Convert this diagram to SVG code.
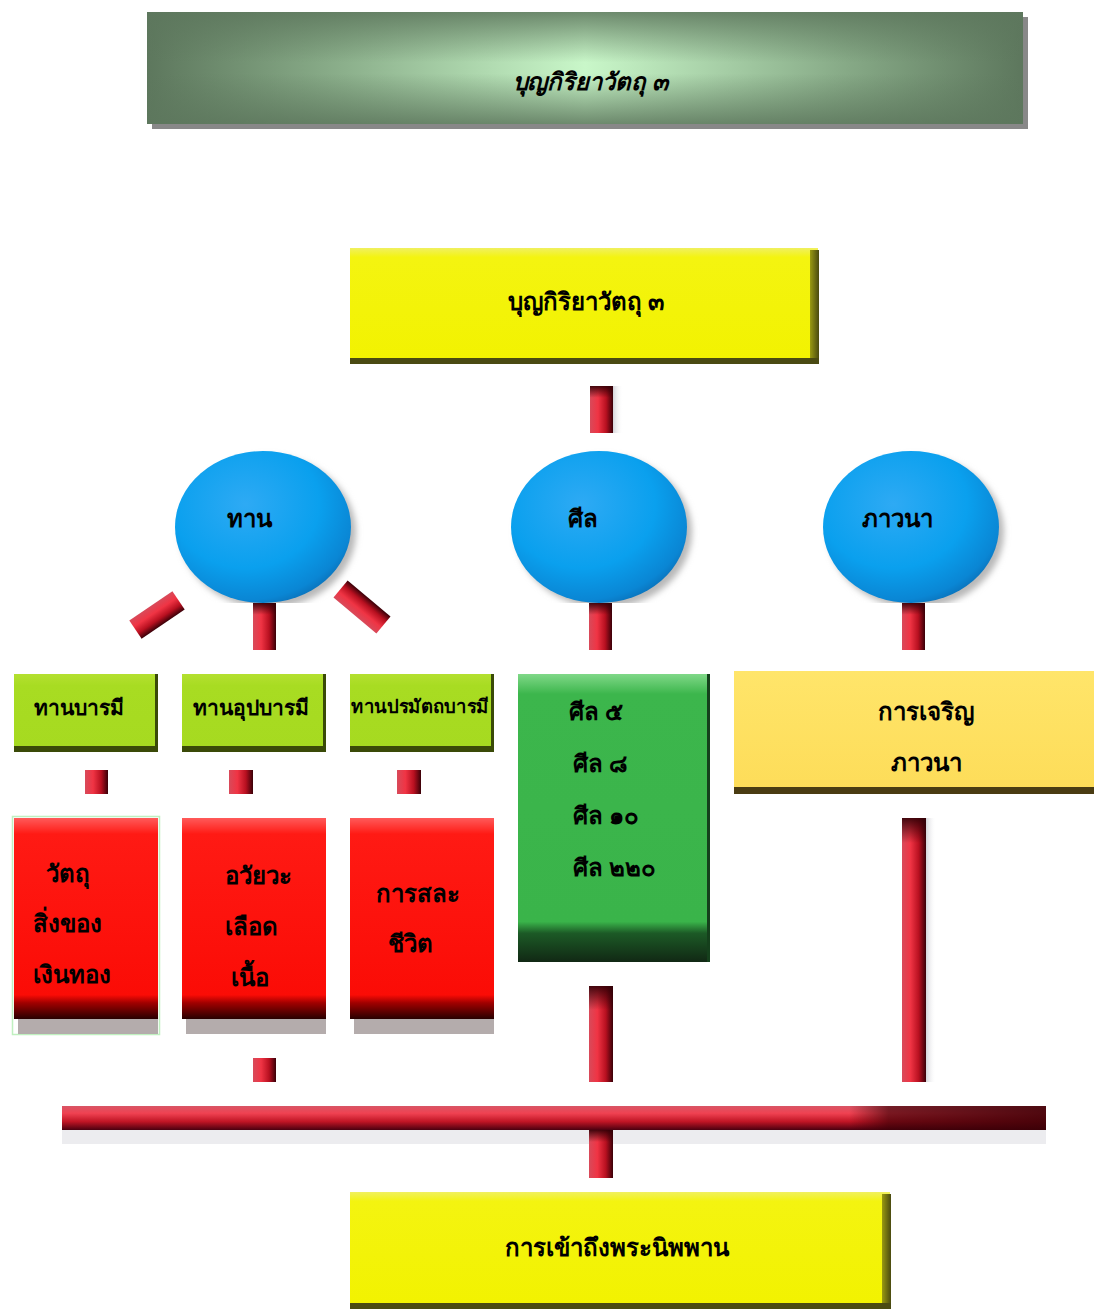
<svg xmlns="http://www.w3.org/2000/svg" width="1097" height="1315" viewBox="0 0 1097 1315">
<style>
.t{font-family:"Liberation Serif","DejaVu Serif",serif;font-weight:bold;fill:#000;font-size:24px}
.c{text-anchor:middle}
</style>
<defs>
<linearGradient id="titleH" x1="0" y1="0" x2="1" y2="0">
<stop offset="0" stop-color="#5d775d"/><stop offset="0.2" stop-color="#86a986"/><stop offset="0.5" stop-color="#c9f7c9"/><stop offset="0.8" stop-color="#86a986"/><stop offset="1" stop-color="#5d775d"/>
</linearGradient>
<linearGradient id="titleV" x1="0" y1="0" x2="0" y2="1">
<stop offset="0" stop-color="#5d775d" stop-opacity="0.85"/><stop offset="0.45" stop-color="#5d775d" stop-opacity="0"/><stop offset="0.55" stop-color="#5d775d" stop-opacity="0"/><stop offset="1" stop-color="#5d775d" stop-opacity="0.85"/>
</linearGradient>
<linearGradient id="rodV" x1="0" y1="0" x2="1" y2="0">
<stop offset="0" stop-color="#d84a5a"/><stop offset="0.35" stop-color="#f03444"/><stop offset="0.7" stop-color="#b81020"/><stop offset="1" stop-color="#3a0008"/>
</linearGradient>
<linearGradient id="rodTop" x1="0" y1="0" x2="0" y2="1">
<stop offset="0" stop-color="#300006" stop-opacity="0.9"/><stop offset="0.25" stop-color="#300006" stop-opacity="0"/>
</linearGradient>
<linearGradient id="rodH" x1="0" y1="0" x2="0" y2="1">
<stop offset="0" stop-color="#d85565"/><stop offset="0.3" stop-color="#f04252"/><stop offset="0.65" stop-color="#c01525"/><stop offset="1" stop-color="#4a0010"/>
</linearGradient>
<linearGradient id="rodHdark" x1="0" y1="0" x2="1" y2="0">
<stop offset="0" stop-color="#3a0006" stop-opacity="0"/><stop offset="0.8" stop-color="#3a0006" stop-opacity="0"/><stop offset="0.84" stop-color="#3a0006" stop-opacity="0.65"/><stop offset="1" stop-color="#3a0006" stop-opacity="0.88"/>
</linearGradient>
<linearGradient id="shadeR" x1="0" y1="0" x2="1" y2="0">
<stop offset="0" stop-color="#b8b8c0" stop-opacity="0.6"/><stop offset="1" stop-color="#ffffff" stop-opacity="0"/>
</linearGradient>
<linearGradient id="yellow" x1="0" y1="0" x2="0" y2="1">
<stop offset="0" stop-color="#f0f060"/><stop offset="0.08" stop-color="#f4f410"/><stop offset="1" stop-color="#f2f200"/>
</linearGradient>
<linearGradient id="yellowR" x1="0" y1="0" x2="1" y2="0">
<stop offset="0" stop-color="#9a9a10"/><stop offset="1" stop-color="#4a4a10"/>
</linearGradient>
<linearGradient id="gold" x1="0" y1="0" x2="0" y2="1">
<stop offset="0" stop-color="#ffe56a"/><stop offset="1" stop-color="#fddc58"/>
</linearGradient>
<linearGradient id="lime" x1="0" y1="0" x2="0" y2="1">
<stop offset="0" stop-color="#b4e030"/><stop offset="0.15" stop-color="#a8dc22"/><stop offset="1" stop-color="#a6da20"/>
</linearGradient>
<linearGradient id="red" x1="0" y1="0" x2="0" y2="1">
<stop offset="0" stop-color="#ff5a5a"/><stop offset="0.08" stop-color="#ff1a14"/><stop offset="0.88" stop-color="#fb0c06"/><stop offset="0.92" stop-color="#a00000"/><stop offset="1" stop-color="#280000"/>
</linearGradient>
<linearGradient id="green" x1="0" y1="0" x2="0" y2="1">
<stop offset="0" stop-color="#80d888"/><stop offset="0.07" stop-color="#3cb64c"/><stop offset="0.86" stop-color="#3ab44a"/><stop offset="0.9" stop-color="#1c5a26"/><stop offset="1" stop-color="#112814"/>
</linearGradient>
<radialGradient id="ball" cx="0.4" cy="0.35" r="0.7">
<stop offset="0" stop-color="#2eaaf4"/><stop offset="0.6" stop-color="#0aa0ee"/><stop offset="0.9" stop-color="#0a86d4"/><stop offset="1" stop-color="#0a70b8"/>
</radialGradient>
<filter id="soft" x="-20%" y="-20%" width="140%" height="140%"><feGaussianBlur stdDeviation="3"/></filter>
<clipPath id="ballClip"><rect x="0" y="440" width="1097" height="163"/></clipPath>
</defs>

<g id="title">
<rect x="152" y="17" width="876" height="112" fill="#888"/>
<rect x="147" y="12" width="876" height="112" fill="url(#titleH)"/>
<rect x="147" y="12" width="876" height="112" fill="url(#titleV)"/>
<text class="t c" x="590" y="90" textLength="155" lengthAdjust="spacingAndGlyphs" style="font-style:italic">บุญกิริยาวัตถุ ๓</text>
</g>

<g id="connectors">
<rect x="613" y="386" width="10" height="47" fill="url(#shadeR)"/>
<rect x="590" y="386" width="23" height="47" fill="url(#rodV)"/>
<rect x="590" y="386" width="23" height="47" fill="url(#rodTop)"/>
<rect x="253" y="603" width="23" height="47" fill="url(#rodV)"/>
<rect x="253" y="603" width="23" height="47" fill="url(#rodTop)"/>
<rect x="589" y="603" width="23" height="47" fill="url(#rodV)"/>
<rect x="589" y="603" width="23" height="47" fill="url(#rodTop)"/>
<rect x="902" y="603" width="23" height="47" fill="url(#rodV)"/>
<rect x="902" y="603" width="23" height="47" fill="url(#rodTop)"/>
<rect x="-11" y="-26" width="22" height="52" fill="url(#rodV)" transform="translate(157,615) rotate(56)"/>
<rect x="-11" y="-28" width="22" height="56" fill="url(#rodV)" transform="translate(362,607) rotate(-50)"/>
<rect x="85" y="770" width="23" height="24" fill="url(#rodV)"/>
<rect x="229" y="770" width="24" height="24" fill="url(#rodV)"/>
<rect x="397" y="770" width="24" height="24" fill="url(#rodV)"/>
<rect x="253" y="1058" width="23" height="24" fill="url(#rodV)"/>
<rect x="589" y="986" width="24" height="96" fill="url(#rodV)"/>
<rect x="589" y="986" width="24" height="96" fill="url(#rodTop)"/>
<rect x="926" y="818" width="10" height="264" fill="url(#shadeR)"/>
<rect x="902" y="818" width="24" height="264" fill="url(#rodV)"/>
<rect x="902" y="818" width="24" height="100" fill="url(#rodTop)"/>
<rect x="62" y="1130" width="984" height="14" fill="#c8c8d0" opacity="0.35"/>
<rect x="62" y="1106" width="984" height="24" fill="url(#rodH)"/>
<rect x="62" y="1106" width="984" height="24" fill="url(#rodHdark)"/>
<rect x="589" y="1130" width="24" height="48" fill="url(#rodV)"/>
<rect x="589" y="1130" width="24" height="48" fill="url(#rodTop)"/>
</g>

<g id="root">
<rect x="350" y="248" width="468" height="116" fill="url(#yellow)"/>
<rect x="810" y="250" width="9" height="114" fill="url(#yellowR)"/>
<rect x="350" y="358" width="469" height="6" fill="#4a4a12"/>
<text class="t c" x="586" y="310">บุญกิริยาวัตถุ ๓</text>
</g>

<g id="dana">
<ellipse cx="268" cy="532" rx="88" ry="76" fill="#b8b8b8" filter="url(#soft)" clip-path="url(#ballClip)"/>
<ellipse cx="263" cy="527" rx="88" ry="76" fill="url(#ball)" clip-path="url(#ballClip)"/>
<text class="t c" x="249" y="527">ทาน</text>
</g>
<g id="sila">
<ellipse cx="604" cy="532" rx="88" ry="76" fill="#b8b8b8" filter="url(#soft)" clip-path="url(#ballClip)"/>
<ellipse cx="599" cy="527" rx="88" ry="76" fill="url(#ball)" clip-path="url(#ballClip)"/>
<text class="t c" x="583" y="527">ศีล</text>
</g>
<g id="bhavana">
<ellipse cx="916" cy="532" rx="88" ry="76" fill="#b8b8b8" filter="url(#soft)" clip-path="url(#ballClip)"/>
<ellipse cx="911" cy="527" rx="88" ry="76" fill="url(#ball)" clip-path="url(#ballClip)"/>
<text class="t c" x="897" y="527">ภาวนา</text>
</g>

<g id="dana-parami">
<rect x="14" y="674" width="144" height="78" fill="url(#lime)"/>
<rect x="155" y="674" width="3" height="78" fill="#3a4a08"/>
<rect x="14" y="746" width="144" height="6" fill="#3a4a08"/>
<text class="t" x="34" y="715" style="font-size:21px">ทานบารมี</text>
</g>
<g id="dana-upaparami">
<rect x="182" y="674" width="144" height="78" fill="url(#lime)"/>
<rect x="323" y="674" width="3" height="78" fill="#3a4a08"/>
<rect x="182" y="746" width="144" height="6" fill="#3a4a08"/>
<text class="t" x="193" y="715" style="font-size:21px">ทานอุปบารมี</text>
</g>
<g id="dana-paramattha">
<rect x="350" y="674" width="144" height="78" fill="url(#lime)"/>
<rect x="491" y="674" width="3" height="78" fill="#3a4a08"/>
<rect x="350" y="746" width="144" height="6" fill="#3a4a08"/>
<text class="t" x="351" y="713" textLength="138" lengthAdjust="spacingAndGlyphs" style="font-size:19px">ทานปรมัตถบารมี</text>
</g>

<g id="red-1">
<rect x="12.5" y="816.5" width="147" height="218" fill="none" stroke="#c0f0c0" stroke-width="1.5"/>
<rect x="18" y="1019" width="140" height="15" fill="#b4acac"/>
<rect x="14" y="818" width="144" height="201" fill="url(#red)"/>
<text class="t" x="46" y="882">วัตถุ</text>
<text class="t" x="33" y="932">สิ่งของ</text>
<text class="t" x="33" y="983">เงินทอง</text>
</g>
<g id="red-2">
<rect x="186" y="1019" width="140" height="15" fill="#b4acac"/>
<rect x="182" y="818" width="144" height="201" fill="url(#red)"/>
<text class="t" x="225" y="884">อวัยวะ</text>
<text class="t" x="225" y="935">เลือด</text>
<text class="t" x="231" y="986">เนื้อ</text>
</g>
<g id="red-3">
<rect x="354" y="1019" width="140" height="15" fill="#b4acac"/>
<rect x="350" y="818" width="144" height="201" fill="url(#red)"/>
<text class="t" x="376" y="902">การสละ</text>
<text class="t" x="388" y="952">ชีวิต</text>
</g>

<g id="sila-list">
<rect x="518" y="674" width="192" height="288" fill="url(#green)"/>
<rect x="707" y="674" width="3" height="288" fill="#15401c"/>
<text class="t" x="569" y="720">ศีล ๕</text>
<text class="t" x="573" y="772">ศีล ๘</text>
<text class="t" x="573" y="824">ศีล ๑๐</text>
<text class="t" x="573" y="876">ศีล ๒๒๐</text>
</g>

<g id="bhavana-dev">
<rect x="734" y="671" width="360" height="123" fill="url(#gold)"/>
<rect x="734" y="787" width="360" height="7" fill="#4a3c12"/>
<text class="t c" x="926" y="720">การเจริญ</text>
<text class="t c" x="926" y="771">ภาวนา</text>
</g>

<g id="nirvana">
<rect x="350" y="1192" width="540" height="116" fill="url(#yellow)"/>
<rect x="882" y="1194" width="9" height="114" fill="url(#yellowR)"/>
<rect x="350" y="1303" width="541" height="6" fill="#4a4a12"/>
<text class="t c" x="617" y="1256">การเข้าถึงพระนิพพาน</text>
</g>
</svg>
